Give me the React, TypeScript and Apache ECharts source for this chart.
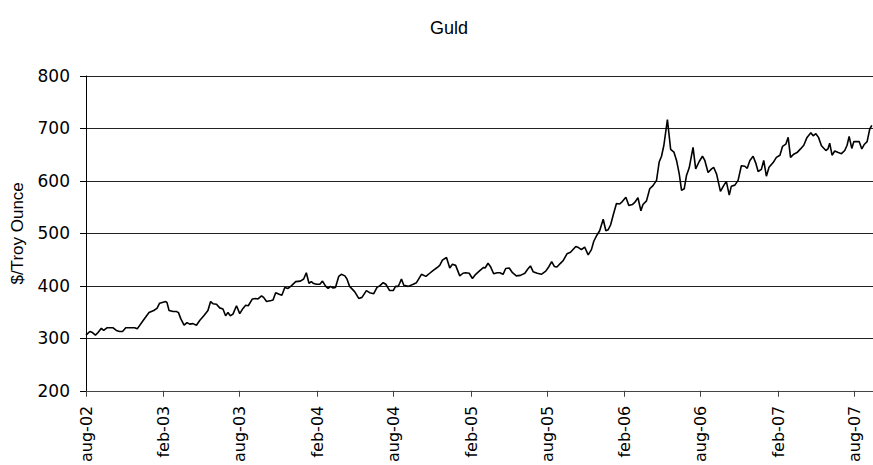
import React, { useEffect, useRef } from "react";
import * as echarts from "echarts";

// Weeks since 1 Aug 2002 (x) and gold price in $/troy ounce (y)
const weeks = [
  0.0, 1.3, 2.2, 3.2, 4.1, 5.2, 6.0, 7.1, 9.2, 10.3, 11.4, 12.4, 13.5, 16.5, 17.4, 19.4, 21.4, 23.0, 24.1, 25.0,
  27.1, 27.5, 28.2, 29.6, 30.7, 31.4, 32.2, 33.3, 34.3, 35.2, 36.3, 37.5, 38.6, 40.0, 41.4, 42.3, 43.1, 44.3, 45.4, 46.5,
  47.4, 48.2, 49.0, 49.9, 51.1, 52.2, 53.3, 54.2, 55.1, 56.5, 57.6, 58.4, 59.6, 60.3, 61.3, 62.9, 63.5, 64.4, 65.6, 66.5,
  67.5, 68.6, 69.7, 71.2, 72.8, 73.9, 74.8, 75.7, 76.5, 77.1, 78.2, 79.4, 80.3, 81.4, 82.2, 83.0, 83.9, 84.7, 85.8, 86.7,
  87.9, 88.6, 89.5, 91.2, 92.6, 93.7, 95.2, 96.3, 97.7, 98.8, 99.7, 100.9, 101.8, 103.1, 104.3, 105.1, 106.0, 106.5, 107.1, 107.9,
  109.4, 111.1, 112.2, 113.9, 115.4, 116.7, 117.8, 119.0, 120.1, 121.0, 122.4, 123.5, 124.4, 125.5, 126.9, 128.0, 128.9, 130.1, 131.2, 132.3,
  133.7, 135.0, 135.5, 136.5, 137.3, 138.4, 139.6, 140.5, 141.6, 142.5, 143.7, 144.8, 146.1, 147.5, 149.0, 150.0, 150.9, 151.8, 153.2, 154.6,
  156.1, 157.2, 158.1, 159.0, 159.9, 160.9, 162.0, 163.3, 164.5, 166.3, 167.2, 168.2, 169.3, 170.5, 171.6, 172.4, 173.5, 174.4, 175.6, 176.5,
  177.3, 178.1, 179.0, 180.1, 181.2, 181.8, 183.3, 184.3, 185.5, 186.3, 187.4, 188.4, 189.1, 190.3, 191.4, 192.5, 193.7, 194.6, 195.4, 196.2,
  197.4, 198.5, 199.6, 200.5, 201.4, 202.2, 203.1, 203.9, 204.8, 206.1, 207.0, 208.2, 209.3, 210.1, 211.2, 212.4, 213.1, 214.1, 215.4, 216.5,
  217.4, 218.4, 219.1, 220.3, 221.4, 222.5, 223.7, 224.5, 225.4, 226.5, 227.4, 228.2, 229.3, 230.1, 231.0, 231.9, 233.3, 234.4, 235.6, 236.5,
  237.6, 238.4, 239.2, 240.3, 241.4, 242.6, 243.7, 244.8, 246.1, 246.9, 247.8, 248.7, 249.7, 251.2, 251.9, 252.5, 253.3, 254.2, 255.4, 256.5,
  257.6, 258.4, 259.1, 260.0, 260.7, 261.6, 262.5, 263.4, 264.3, 265.2, 266.1, 266.8,
];

const prices = [
  306, 313, 311, 306, 311, 319, 315, 320, 320, 315, 313, 313, 320, 320, 318, 334, 349, 353, 357, 367,
  370, 368, 353, 351, 351, 349, 337, 325, 330, 327, 328, 325, 334, 343, 353, 370, 366, 365, 358, 356,
  343, 349, 343, 346, 362, 347, 357, 363, 362, 375, 376, 375, 381, 378, 370, 372, 373, 387, 384, 382,
  397, 395, 400, 408, 409, 413, 425, 405, 408, 405, 403, 403, 409, 399, 395, 399, 396, 397, 418, 422,
  419, 413, 399, 389, 376, 378, 391, 387, 385, 397, 400, 406, 403, 391, 391, 399, 399, 405, 413, 401,
  399, 403, 406, 422, 418, 424, 429, 434, 439, 449, 454, 434, 441, 439, 419, 424, 425, 424, 414, 422,
  429, 435, 434, 443, 437, 423, 425, 425, 422, 433, 434, 425, 419, 420, 424, 432, 438, 427, 424, 422,
  428, 437, 446, 437, 436, 442, 448, 461, 464, 475, 473, 469, 474, 459, 469, 485, 497, 505, 527, 505,
  507, 516, 535, 557, 556, 559, 569, 553, 555, 559, 568, 543, 555, 562, 585, 591, 601, 636, 647, 668,
  717, 660, 655, 639, 614, 582, 585, 611, 625, 664, 623, 637, 647, 639, 616, 623, 626, 613, 580, 591,
  599, 573, 590, 592, 601, 629, 628, 624, 639, 647, 634, 618, 622, 639, 609, 626, 635, 645, 649, 666,
  670, 683, 645, 651, 654, 661, 668, 683, 692, 686, 690, 683, 667, 658, 661, 672, 649, 657, 654, 652,
  658, 668, 685, 662, 675, 675, 675, 661, 670, 675, 699, 706,
];

const tickDates = [
  "2002-08-01", "2003-02-01", "2003-08-01", "2004-02-01", "2004-08-01", "2005-02-01",
  "2005-08-01", "2006-02-01", "2006-08-01", "2007-02-01", "2007-08-01",
];
const tickLabels = [
  "aug-02", "feb-03", "aug-03", "feb-04", "aug-04", "feb-05",
  "aug-05", "feb-06", "aug-06", "feb-07", "aug-07",
];

const yTicks = [200, 300, 400, 500, 600, 700, 800];

export default function App() {
  const ref = useRef<HTMLDivElement>(null);

  useEffect(() => {
    if (!ref.current) return;
    const chart = echarts.init(ref.current, null, { renderer: "svg" });
    const origin = Date.parse(tickDates[0]);
    const tickWeeks = tickDates.map((d) => (Date.parse(d) - origin) / (7 * 86400000));
    const labelFor = (v: number) => {
      for (let i = 0; i < tickWeeks.length; i++) {
        if (Math.abs(tickWeeks[i] - v) < 1e-6) return tickLabels[i];
      }
      return "";
    };
    const data = weeks.map((w, i) => [w, prices[i]]);

    chart.setOption({
      animation: false,
      backgroundColor: "#ffffff",
      title: {
        text: "Guld",
        left: 444,
        top: 14,
        textAlign: "center",
        textStyle: {
          fontFamily: "Liberation Sans",
          fontSize: 18,
          fontWeight: "normal",
          color: "#000",
        },
      },
      grid: { left: 86, right: 0, top: 76, bottom: 72, containLabel: false },
      xAxis: {
        type: "value",
        min: 0,
        max: 267.2,
        axisLine: { show: true, onZero: false, lineStyle: { color: "#444", width: 1 } },
        axisTick: { show: true, length: 6, customValues: tickWeeks, lineStyle: { color: "#444" } },
        axisLabel: {
          customValues: tickWeeks,
          rotate: 90,
          margin: 15,
          formatter: (v: number) => labelFor(v),
          fontFamily: "DejaVu Sans",
          fontSize: 16,
          color: "#000",
        },
        splitLine: { show: false },
      },
      yAxis: {
        type: "value",
        min: yTicks[0],
        max: yTicks[yTicks.length - 1],
        interval: 100,
        name: "$/Troy Ounce",
        nameLocation: "middle",
        nameGap: 60,
        nameTextStyle: {
          fontFamily: "Liberation Sans",
          fontSize: 17,
          color: "#000",
        },
        axisLine: { show: true, lineStyle: { color: "#000", width: 1 } },
        axisTick: { show: true, length: 6, lineStyle: { color: "#000" } },
        axisLabel: {
          margin: 16,
          fontFamily: "DejaVu Sans",
          fontSize: 17,
          color: "#000",
        },
        splitLine: { show: true, lineStyle: { color: "#222", width: 1 } },
      },
      series: [
        {
          type: "line",
          data,
          showSymbol: false,
          symbol: "none",
          lineStyle: { color: "#000", width: 1.6 },
          clip: true,
        },
      ],
    });

    return () => chart.dispose();
  }, []);

  return (
    <div
      ref={ref}
      style={{ position: "absolute", left: 0, top: 0, width: 873, height: 465 }}
    />
  );
}
